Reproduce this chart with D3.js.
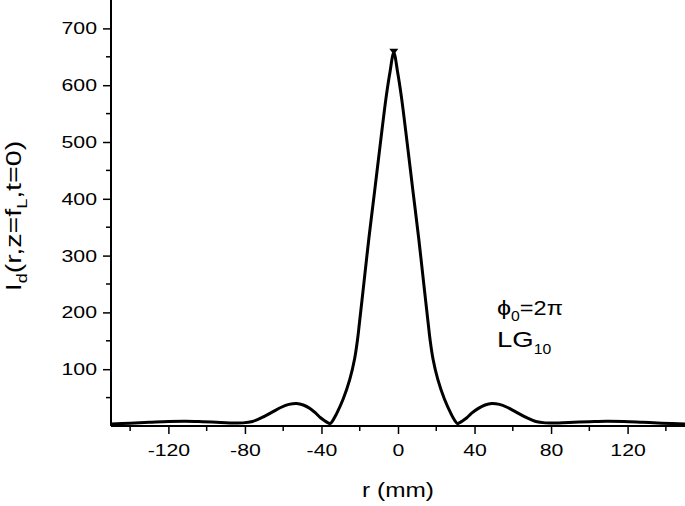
<!DOCTYPE html>
<html>
<head>
<meta charset="utf-8">
<script src="https://cdn.jsdelivr.net/npm/d3@7"></script>
<style>
  html, body { margin: 0; padding: 0; background: #fff; }
  svg { display: block; font-family: "Liberation Sans", Arial, sans-serif; }
</style>
</head>
<body>
<svg id="chart" width="685" height="506"></svg>
<script>
// r (mm) sample positions
const rValues = [
  -150, -140, -130, -120, -111, -102, -95, -88, -81, -76, -71, -66, -61, -57,
  -53, -49.5, -46, -43, -40.5, -38, -36.5, -35.5,
  -34.2, -32.2, -28.7, -25.2, -22.7, -21.2, -20.2, -18.2, -15.2, -12.2, -9.2, -6.2, -4.2,
  -2.2,
  -0.2, 1.8, 4.8, 7.8, 10.8, 13.8, 15.8, 16.8, 18.3, 20.8, 24.3, 27.8, 29.8, 31.0,
  32.0, 33.5, 36, 38.5, 42, 45.5, 49, 53, 57, 62, 67, 72, 77, 84,
  92, 100, 109, 118, 128, 138, 150
];
// intensity I_d(r, z=f_L, t=0) at those positions
const iValues = [
  3.5, 5, 6.5, 8, 8.5, 7.5, 6.5, 5.5, 5.5, 8, 15, 24, 33, 38,
  39.6, 37, 31, 22.5, 14.5, 8.5, 5.5, 4.5,
  9, 21, 47, 82, 118, 151, 180, 240, 331, 414, 498, 579, 623,
  657,
  623, 579, 498, 414, 331, 240, 180, 151, 118, 82, 47, 21, 9, 4.5,
  5.5, 8.5, 14.5, 22.5, 31, 37, 39.6, 38, 33, 24, 15, 8, 5.5, 5.5,
  6.5, 7.5, 8.5, 8, 6.5, 5, 3.5
];
// peak marker
const markerR = [-2.2];
const markerI = [657];

const xMajorTicks = [-120, -80, -40, 0, 40, 80, 120];
const xMinorTicks = [-140, -100, -60, -20, 20, 60, 100, 140];
const yMajorTicks = [100, 200, 300, 400, 500, 600, 700];
const yMinorTicks = [50, 150, 250, 350, 450, 550, 650];

const svg = d3.select("#chart");
const pL = 111, pR = 685, pT = 0, pB = 426;
const STRETCH = 1.25; // the reference glyphs are drawn wide

const x = d3.scaleLinear().domain([-150, 150]).range([pL, pR]);
const y = d3.scaleLinear().domain([0, 750]).range([pB, pT]);

svg.append("defs").append("clipPath").attr("id", "clip")
  .append("rect").attr("x", pL).attr("y", pT - 5)
  .attr("width", pR - pL).attr("height", pB - pT + 5);

// curve
const data = rValues.map((r, i) => [r, iValues[i]]);
const line = d3.line().x(d => x(d[0])).y(d => y(d[1])).curve(d3.curveCatmullRom.alpha(0.5));
svg.append("path").datum(data)
  .attr("clip-path", "url(#clip)")
  .attr("d", line)
  .attr("fill", "none").attr("stroke", "#000")
  .attr("stroke-width", 3).attr("stroke-linejoin", "round");

// peak marker (down triangle)
svg.selectAll("path.marker").data(markerR).enter().append("path")
  .attr("class", "marker")
  .attr("transform", (d, i) => `translate(${x(d)},${y(markerI[i]) - 1})`)
  .attr("d", "M-4.5,-3 L4.5,-3 L0,3 Z")
  .attr("fill", "#000");

function stretchText(sel, factor) {
  sel.each(function () {
    const len = this.getComputedTextLength();
    d3.select(this).attr("textLength", len * factor).attr("lengthAdjust", "spacingAndGlyphs");
  });
}

const fmt = d => String(d);

// x axis
const xAxis = svg.append("g").attr("transform", `translate(0,${pB})`);
xAxis.call(d3.axisBottom(x).tickValues(xMajorTicks).tickSize(8).tickPadding(6).tickFormat(fmt));
xAxis.append("g").selectAll("line").data(xMinorTicks).enter().append("line")
  .attr("x1", d => x(d)).attr("x2", d => x(d)).attr("y1", 0).attr("y2", 5)
  .attr("stroke", "#000").attr("stroke-width", 1.5);
xAxis.select(".domain").remove();
xAxis.append("line").attr("x1", pL).attr("x2", pR).attr("y1", 0).attr("y2", 0)
  .attr("stroke", "#000").attr("stroke-width", 2);
xAxis.selectAll(".tick text").attr("y", 29.5).attr("dy", null);

// y axis
const yAxis = svg.append("g").attr("transform", `translate(${pL},0)`);
yAxis.call(d3.axisLeft(y).tickValues(yMajorTicks).tickSize(8).tickPadding(6).tickFormat(fmt));
yAxis.append("g").selectAll("line").data(yMinorTicks).enter().append("line")
  .attr("y1", d => y(d)).attr("y2", d => y(d)).attr("x1", 0).attr("x2", -5)
  .attr("stroke", "#000").attr("stroke-width", 1.5);
yAxis.select(".domain").remove();
yAxis.append("line").attr("x1", 0).attr("x2", 0).attr("y1", pT).attr("y2", pB)
  .attr("stroke", "#000").attr("stroke-width", 2);

svg.selectAll(".tick line").attr("stroke", "#000").attr("stroke-width", 1.5);
svg.selectAll(".tick text").attr("font-size", 17)
  .attr("font-family", "'Liberation Sans', Arial, sans-serif").attr("fill", "#000");
stretchText(svg.selectAll(".tick text"), STRETCH);

// rich text made of runs (main text + subscripts), each run stretched
function richText(parts, opts) {
  const g = svg.append("g")
    .attr("transform", `translate(${opts.x},${opts.y}) rotate(${opts.rotate || 0})`);
  let cx = 0;
  const nodes = [];
  parts.forEach(p => {
    const t = g.append("text").attr("x", cx).attr("y", p.dy || 0)
      .attr("font-size", p.size).attr("fill", "#000").text(p.text);
    const len = t.node().getComputedTextLength() * p.stretch;
    t.attr("textLength", len).attr("lengthAdjust", "spacingAndGlyphs");
    nodes.push([t, cx]);
    cx += len;
  });
  if (opts.anchor === "middle") nodes.forEach(([t, x0]) => t.attr("x", x0 - cx / 2));
  return g;
}

// x title
richText([{ text: "r (mm)", size: 20, stretch: 1.22 }], { x: 398, y: 497, anchor: "middle" });

// y title I_d(r,z=f_L,t=0)
richText([
  { text: "I", size: 22, stretch: 1.3 },
  { text: "d", size: 15, stretch: 1.2, dy: 6 },
  { text: "(r,z=f", size: 22, stretch: 1.3 },
  { text: "L", size: 15, stretch: 1.2, dy: 6 },
  { text: ",t=0)", size: 22, stretch: 1.3 }
], { x: 21, y: 216, rotate: -90, anchor: "middle" });

// annotation
richText([
  { text: "\u03D5", size: 21, stretch: 1.2 },
  { text: "0", size: 15, stretch: 1.05, dy: 6 },
  { text: "=2\u03C0", size: 21, stretch: 1.12 }
], { x: 497, y: 315 });
richText([
  { text: "LG", size: 22, stretch: 1.25 },
  { text: "10", size: 15, stretch: 1.05, dy: 7 }
], { x: 497, y: 347 });
</script>
</body>
</html>
